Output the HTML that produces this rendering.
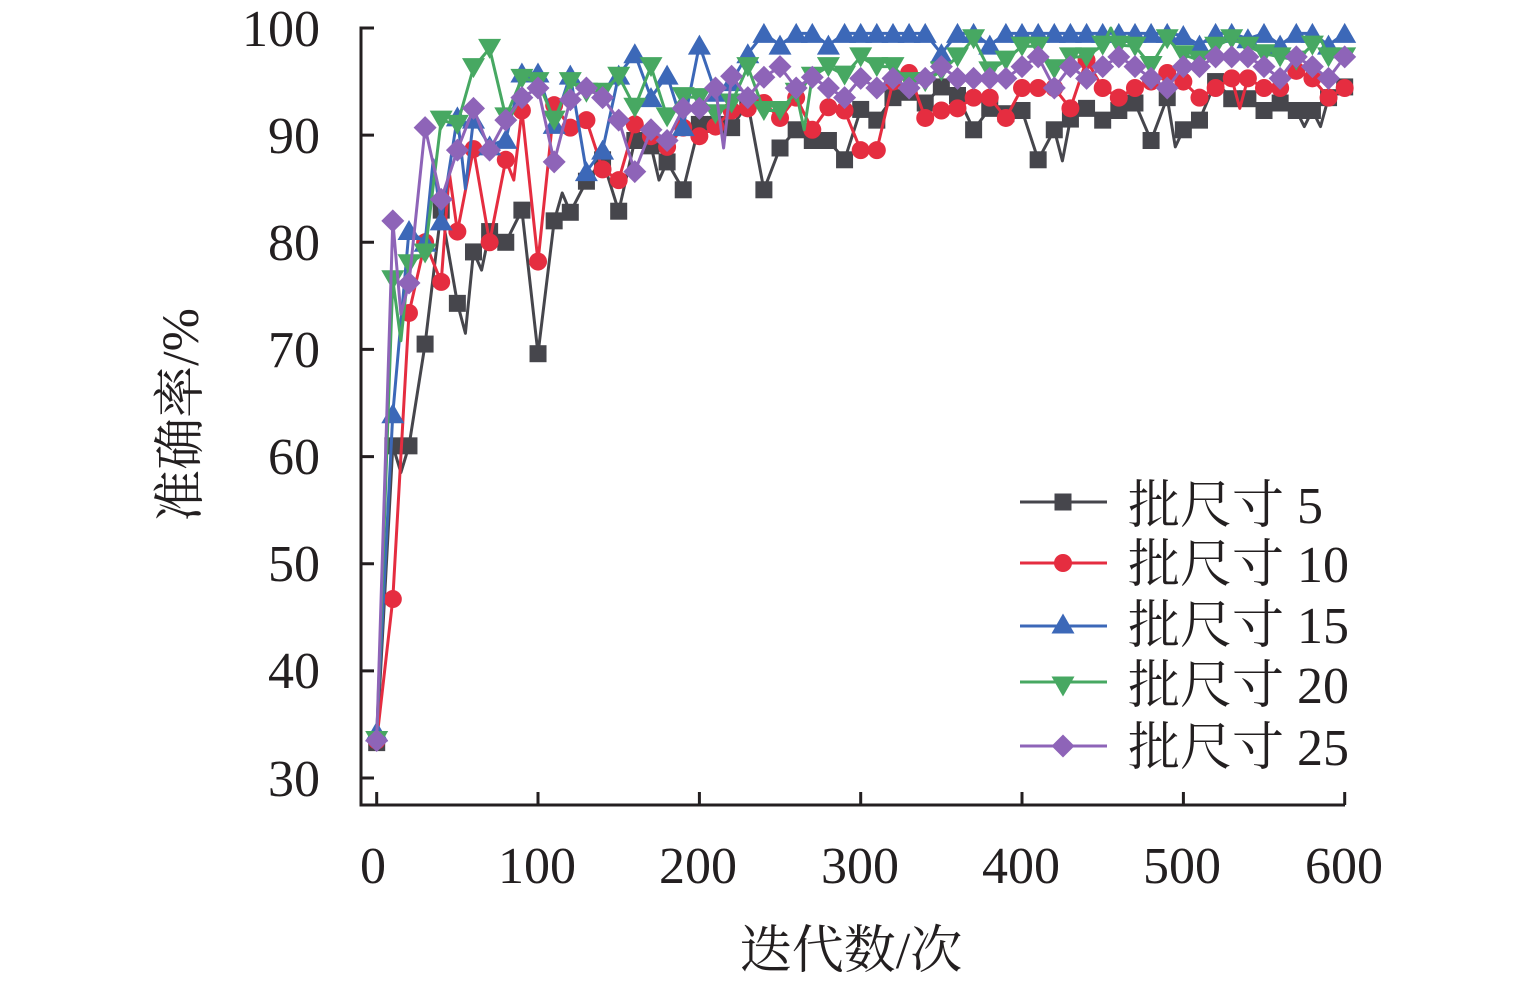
<!DOCTYPE html>
<html><head><meta charset="utf-8">
<style>
html,body{margin:0;padding:0;background:#fff;}
svg{display:block;}
.t{font-family:"Liberation Serif","Noto Serif CJK SC",serif;font-size:52px;fill:#231f20;}
</style></head>
<body>
<svg id="s" xmlns="http://www.w3.org/2000/svg" width="1535" height="983" viewBox="0 0 1535 983">
<rect width="1535" height="983" fill="#fff"/>
<g id="series"></g>
<!-- axes -->
<g stroke="#231f20" stroke-width="3" fill="none">
<path d="M361,805 L361,28 L374,28"/>
<path d="M359.5,805 L1345,805"/>
<path d="M361,135.1 H374 M361,242.3 H374 M361,349.4 H374 M361,456.6 H374 M361,563.7 H374 M361,670.9 H374 M361,778 H374"/>
<path d="M376.7,805 V792 M538,805 V792 M699.4,805 V792 M860.7,805 V792 M1022,805 V792 M1183.4,805 V792 M1344.7,805 V792"/>
</g>
<g class="t" text-anchor="end">
<text x="320" y="46">100</text>
<text x="320" y="153">90</text>
<text x="320" y="260">80</text>
<text x="320" y="367">70</text>
<text x="320" y="474">60</text>
<text x="320" y="581">50</text>
<text x="320" y="688">40</text>
<text x="320" y="796">30</text>
</g>
<g class="t" text-anchor="middle">
<text x="373" y="883">0</text>
<text x="537" y="883">100</text>
<text x="698" y="883">200</text>
<text x="860" y="883">300</text>
<text x="1021" y="883">400</text>
<text x="1182" y="883">500</text>
<text x="1344" y="883">600</text>
<text x="851" y="968">迭代数/次</text>
<text transform="translate(198,415) rotate(-90)">准确率/%</text>
</g>
<g id="legend"></g>
<g class="t">
<text x="1128" y="523">批尺寸 5</text>
<text x="1128" y="582">批尺寸 10</text>
<text x="1128" y="643">批尺寸 15</text>
<text x="1128" y="703">批尺寸 20</text>
<text x="1128" y="765">批尺寸 25</text>
</g>
</svg>
<script>
(function(){
var NS="http://www.w3.org/2000/svg";
function X(x){return 376.7+x*1.6133;}
function Y(v){return 28+(100-v)*10.714;}
var C={k:"#46464c",r:"#e52d40",b:"#3c68b8",g:"#47a862",p:"#8e64b8"};
var S=[
{c:C.k,m:"sq",d:[33.3,61,61,70.5,83,74.3,79.1,81,80,83,69.6,82,82.8,85.7,87.7,82.9,89.5,89,87.5,84.9,91,91,90.7,93,84.9,88.8,90.5,89.5,89.5,87.7,92.4,91.4,93.5,94,93,94.5,93.7,90.5,92.5,92,92.3,87.7,90.5,91.5,92.5,91.4,92.3,93,89.5,93.5,90.5,91.4,95,93.4,93.4,92.3,93,92.3,92.3,93.5,94.5],
 e:{15:58.5,55:71.5,65:77.4,115:84.6,175:85.8,425:87.6,495:88.9,575:90.8,585:90.8}},
{c:C.r,m:"ci",d:[33.5,46.7,73.4,80,76.3,81,88.7,80,87.7,92.3,78.2,92.8,90.7,91.4,86.8,85.8,91,89.9,88.9,90.7,89.9,90.8,92.3,92.5,93,91.6,93.5,90.5,92.6,92.3,88.6,88.6,95,95.8,91.6,92.3,92.5,93.5,93.5,91.6,94.4,94.4,94.4,92.5,97,94.4,93.5,94.4,95,95.8,95,93.5,94.4,95.3,95.3,94.4,94.4,96,95.3,93.5,94.4],
 e:{45:86.5,85:85.8,535:92.5}},
{c:C.b,m:"tu",d:[34.3,64,81.1,80,82,91.7,91.5,89,89.6,95.8,95.8,91,95.6,86.6,88.6,95.6,97.6,93.5,95.6,90.8,98.4,94,95,97.6,99.5,98.4,99.5,99.5,98.4,99.5,99.5,99.5,99.5,99.5,99.5,97.6,99.5,99.5,98.4,99.5,99.5,99.5,99.5,99.5,99.5,99.5,99.5,99.5,99.5,99.5,99.3,98.4,99.5,99.5,99,99.5,98.4,99.5,99.5,98.4,99.5],
 e:{35:87.7,55:85}},
{c:C.g,m:"td",d:[33.5,76.5,78,79,91.4,91,96.3,98.1,91.7,95.3,95,91.4,95,94,94,95.5,92.6,96.4,91.7,93.6,93.5,92,93,96.4,92.3,92.3,94,95.5,96.4,95.6,97.3,96.4,96.4,95,95,96,97.3,99,96,97,98.3,98.3,96.2,97.3,97.3,98.4,98.4,98.3,96.5,99,97.5,97,98.3,99,98.3,97.6,97.3,97,98.4,97.3,97.3],
 e:{15:70.8,265:90.5,455:100,585:99}},
{c:C.p,m:"di",d:[33.5,82,76.2,90.7,84,88.6,92.5,88.6,91.4,93.5,94.4,87.5,93.3,94.4,93.5,91.4,86.6,90.5,89.5,92.5,92.5,94.4,95.5,93.5,95.4,96.4,94.4,95.4,94.4,93.5,95.3,94.4,95.3,94.4,95.3,96.4,95.3,95.3,95.3,95.3,96.4,97.3,94.4,96.4,95.3,96.4,97.3,96.4,95.3,94.4,96.4,96.4,97.3,97.3,97.3,96.4,95.3,97.3,96.4,95.3,97.3],
 e:{15:73.3,215:88.8}}
];
var G=document.getElementById("series");
function mk(type,cx,cy,col){
  var el;
  if(type==="sq"){el=document.createElementNS(NS,"rect");el.setAttribute("x",cx-8.5);el.setAttribute("y",cy-8.5);el.setAttribute("width",17);el.setAttribute("height",17);}
  else if(type==="ci"){el=document.createElementNS(NS,"circle");el.setAttribute("cx",cx);el.setAttribute("cy",cy);el.setAttribute("r",9);}
  else{
    el=document.createElementNS(NS,"polygon");var p;
    if(type==="tu")p=[[cx,cy-10.5],[cx-11.5,cy+9.5],[cx+11.5,cy+9.5]];
    else if(type==="td")p=[[cx,cy+10.5],[cx-11.5,cy-9.5],[cx+11.5,cy-9.5]];
    else p=[[cx,cy-11.5],[cx+11.5,cy],[cx,cy+11.5],[cx-11.5,cy]];
    el.setAttribute("points",p.map(function(a){return a[0].toFixed(1)+","+a[1].toFixed(1);}).join(" "));
  }
  el.setAttribute("fill",col);
  return el;
}
S.forEach(function(s){
  var pts=[];
  for(var i=0;i<s.d.length;i++){
    var x=i*10;pts.push([x,s.d[i]]);
    if(i<s.d.length-1){var h=x+5;if(s.e[h]!==undefined)pts.push([h,s.e[h]]);}
  }
  var d=pts.map(function(p,j){return (j?"L":"M")+X(p[0]).toFixed(1)+","+Y(p[1]).toFixed(1);}).join(" ");
  var path=document.createElementNS(NS,"path");
  path.setAttribute("d",d);path.setAttribute("fill","none");path.setAttribute("stroke",s.c);
  path.setAttribute("stroke-width","3");path.setAttribute("stroke-linejoin","round");
  G.appendChild(path);
  for(var i=0;i<s.d.length;i++){G.appendChild(mk(s.m,X(i*10),Y(s.d[i]),s.c));}
});
var L=document.getElementById("legend");
var rows=[[502,502,"sq",C.k],[563,563,"ci",C.r],[626,624,"tu",C.b],[682,686,"td",C.g],[746,746,"di",C.p]];
rows.forEach(function(r){
  var ln=document.createElementNS(NS,"line");
  ln.setAttribute("x1",1020);ln.setAttribute("x2",1107);ln.setAttribute("y1",r[0]);ln.setAttribute("y2",r[0]);
  ln.setAttribute("stroke",r[3]);ln.setAttribute("stroke-width",3);
  L.appendChild(ln);
  L.appendChild(mk(r[2],1063,r[1],r[3]));
});
})();
</script>
</body></html>
